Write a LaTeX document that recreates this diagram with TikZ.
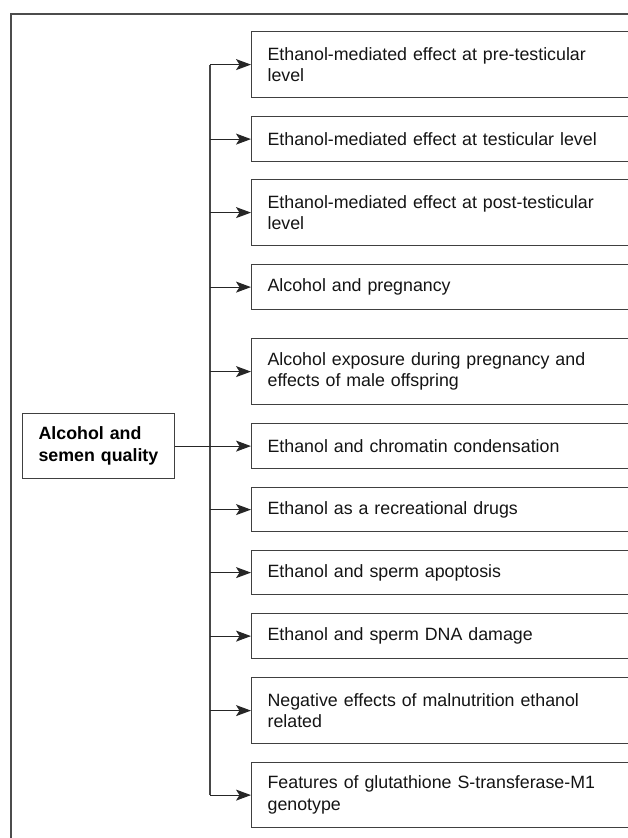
\documentclass[tikz,border=0pt]{standalone}
\usepackage{fontspec}
\setmainfont{Liberation Sans}
\usetikzlibrary{arrows.meta}
\begin{document}
\begin{tikzpicture}[x=1pt,y=-1pt,
  frame/.style={draw=black!70, line width=1.8pt},
  line/.style={draw=black!72, line width=1.2pt},
  box/.style={draw=black!75, line width=1.2pt, rectangle, anchor=north west,
    minimum width=420pt, text width=388pt, inner xsep=16pt, inner ysep=0pt,
    align=left, font=\fontsize{17.8}{21.5}\selectfont, text=black!92},
  mainbox/.style={box, minimum width=152pt, text width=120pt, font=\fontsize{17.8}{21.5}\selectfont\bfseries, text=black},
  arr/.style={draw=black!85, line width=1.2pt, -{Stealth[length=15pt,width=11pt,inset=3.5pt]}},
]
\useasboundingbox (0,0) rectangle (628,838);
\clip (0,0) rectangle (628,838);
\draw[frame] (11,14) rectangle (720,900);

\node[mainbox, minimum height=65pt] (main) at (22,413) {Alcohol and\\semen quality};

\node[box, minimum height=66pt] (b1) at (251,31) {Ethanol-mediated effect at pre-testicular\\level};
\node[box, minimum height=45pt] (b2) at (251,116) {Ethanol-mediated effect at testicular level};
\node[box, minimum height=66pt] (b3) at (251,179) {Ethanol-mediated effect at post-testicular\\level};
\node[box, minimum height=45pt] (b4) at (251,264) {Alcohol and pregnancy};
\node[box, minimum height=66pt] (b5) at (251,338) {Alcohol exposure during pregnancy and\\effects of male offspring};
\node[box, minimum height=45pt] (b6) at (251,423) {Ethanol and chromatin condensation};
\node[box, minimum height=44pt] (b7) at (251,487) {Ethanol as a recreational drugs};
\node[box, minimum height=44pt] (b8) at (251,550) {Ethanol and sperm apoptosis};
\node[box, minimum height=45pt] (b9) at (251,613) {Ethanol and sperm DNA damage};
\node[box, minimum height=66pt] (b10) at (251,677) {Negative effects of malnutrition ethanol\\related};
\node[box, minimum height=65pt] (b11) at (251,762) {Features of glutathione S-transferase-M1\\genotype};

\coordinate (trunk) at (210,0);
\draw[line] (b1.west -| trunk) -- (b11.west -| trunk);
\foreach \b in {b1,b2,b3,b4,b5,b7,b8,b9,b10,b11}
  \draw[arr] (\b.west -| trunk) -- (\b.west);
\draw[arr] (main.east) -- (b6.west);
\end{tikzpicture}
\end{document}
